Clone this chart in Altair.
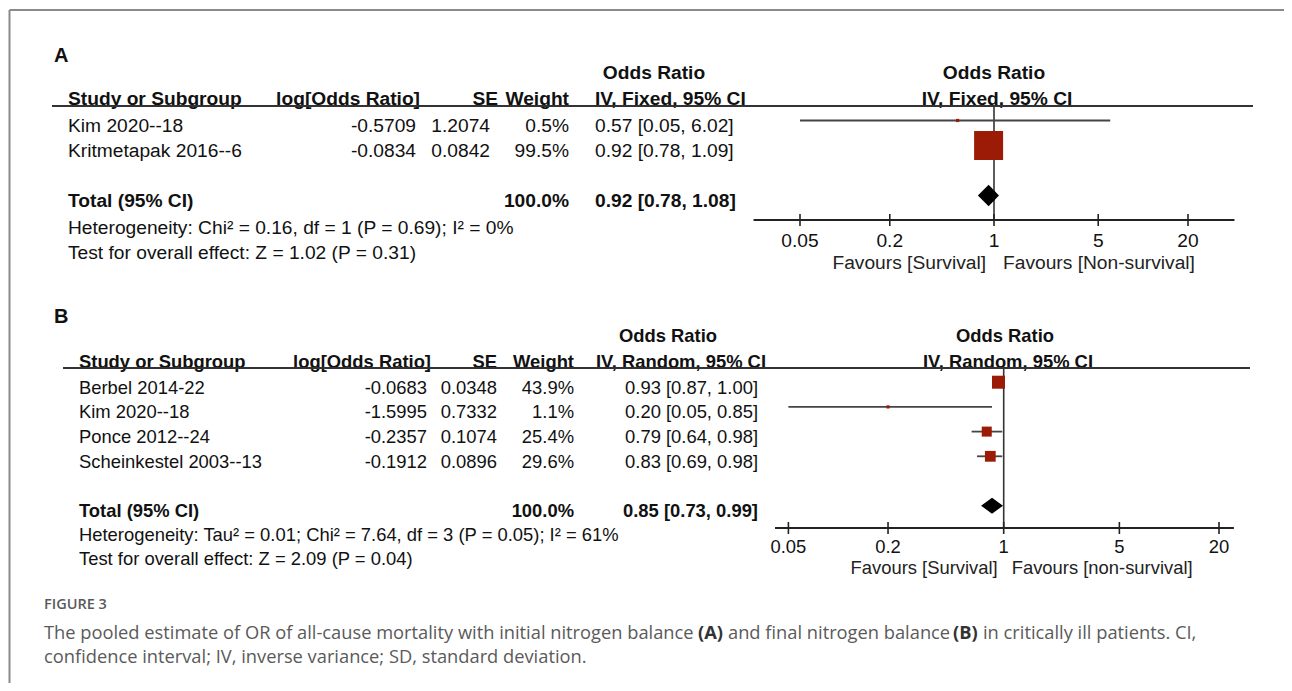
import altair as alt
import pandas as pd

# ---------------- data ----------------
a_study = ["Kim 2020--18", "Kritmetapak 2016--6"]
a_logor = ["-0.5709", "-0.0834"]
a_se = ["1.2074", "0.0842"]
a_weight = [0.5, 99.5]
a_or = [0.57, 0.92]
a_lo = [0.05, 0.78]
a_hi = [6.02, 1.09]
a_total = [0.92, 0.78, 1.08]
a_het = "Heterogeneity: Chi\u00b2 = 0.16, df = 1 (P = 0.69); I\u00b2 = 0%"
a_test = "Test for overall effect: Z = 1.02 (P = 0.31)"

b_study = ["Berbel 2014-22", "Kim 2020--18", "Ponce 2012--24", "Scheinkestel 2003--13"]
b_logor = ["-0.0683", "-1.5995", "-0.2357", "-0.1912"]
b_se = ["0.0348", "0.7332", "0.1074", "0.0896"]
b_weight = [43.9, 1.1, 25.4, 29.6]
b_or = [0.93, 0.20, 0.79, 0.83]
b_lo = [0.87, 0.05, 0.64, 0.69]
b_hi = [1.00, 0.85, 0.98, 0.98]
b_total = [0.85, 0.73, 0.99]
b_het = "Heterogeneity: Tau\u00b2 = 0.01; Chi\u00b2 = 7.64, df = 3 (P = 0.05); I\u00b2 = 61%"
b_test = "Test for overall effect: Z = 2.09 (P = 0.04)"

tick_values = [0.05, 0.2, 1, 5, 20]
tick_labels = ["0.05", "0.2", "1", "5", "20"]

caption_head = "FIGURE 3"
caption_l1 = ["The pooled estimate of OR of all-cause mortality with initial nitrogen balance",
              "(A)", "and final nitrogen balance", "(B)", "in critically ill patients. CI,"]
caption_l2 = "confidence interval; IV, inverse variance; SD, standard deviation."

# ---------------- style / layout ----------------
FONT = "Liberation Sans"
CAP_FONT = "Open Sans"
TXT = "#111111"
SQ = "#9b1b06"
LN = "#333333"
OFF = 8  # page margin


def P(v):
    return v - OFF


layers = []

# figure frame
layers.append(alt.Chart(pd.DataFrame({"k": [0]})).mark_rule(color="#8a8a8a", strokeWidth=2).encode(
    x=alt.value(P(9.5)), x2=alt.value(P(1292)), y=alt.value(P(10))))
layers.append(alt.Chart(pd.DataFrame({"k": [0]})).mark_rule(color="#8a8a8a", strokeWidth=2).encode(
    x=alt.value(P(9.5)), y=alt.value(P(10)), y2=alt.value(P(700))))


def ptext(t, x, y, align="left", bold=False, size=18.5, font=FONT, color=TXT):
    return alt.Chart(pd.DataFrame({"t": [t]})).mark_text(
        align=align, baseline="middle", font=font, fontSize=size,
        fontWeight="bold" if bold else "normal", color=color).encode(
        x=alt.value(P(x)), y=alt.value(P(y)), text="t:N")


def build(cfg, study, logor, se, weight, orv, lo, hi, total, het, test, method):
    n = len(study)
    xs = alt.Scale(type="log", domain=[0.05, 20], range=[P(cfg["x005"]), P(cfg["x20"])])
    ys = alt.Scale(domain=[0, 10], range=[P(cfg["row0"]), P(cfg["row0"] + 10 * cfg["sp"])])
    fs = cfg["fs"]
    df = pd.DataFrame({
        "r": list(range(1, n + 1)),
        "study": study, "logor": logor, "se": se,
        "w": weight, "wt": [f"{w:.1f}%" for w in weight],
        "or": orv, "lo": lo, "hi": hi,
        "ci": [f"{o:.2f} [{l:.2f}, {h:.2f}]" for o, l, h in zip(orv, lo, hi)],
    })
    out = []
    # panel letter
    out.append(ptext(cfg["letter"], 54, cfg["letter_y"], bold=True, size=20))
    # headers
    out.append(ptext("Odds Ratio", cfg["or_hdr_x"], cfg["odds_y"], "center", True, fs))
    out.append(ptext("Odds Ratio", cfg["or_hdr2_x"], cfg["odds_y"], "center", True, fs))
    hy = cfg["hdr_y"]
    out.append(ptext("Study or Subgroup", cfg["study_x"], hy, "left", True, fs))
    out.append(ptext("log[Odds Ratio]", cfg["logor_hdr_r"], hy, "right", True, fs))
    out.append(ptext("SE", cfg["se_hdr_r"], hy, "right", True, fs))
    out.append(ptext("Weight", cfg["w_r"], hy, "right", True, fs))
    out.append(ptext(f"IV, {method}, 95% CI", cfg["iv_hdr_x"], hy, "left", True, fs))
    out.append(ptext(f"IV, {method}, 95% CI", cfg["iv_hdr2_x"], hy, "center", True, fs))
    # header line
    out.append(alt.Chart(pd.DataFrame({"k": [0]})).mark_rule(color=LN, strokeWidth=2).encode(
        x=alt.value(P(cfg["hl_x0"])), x2=alt.value(P(cfg["hl_x1"])), y=alt.value(P(cfg["hl_y"]))))

    # study rows
    def col(field, x, align):
        return alt.Chart(df).mark_text(align=align, baseline="middle", font=FONT, fontSize=fs,
                                       color=TXT, dy=cfg["dy"]).encode(
            x=alt.value(P(x)), y=alt.Y("r:Q", scale=ys, axis=None), text=f"{field}:N")
    out.append(col("study", cfg["study_x"], "left"))
    out.append(col("logor", cfg["logor_r"], "right"))
    out.append(col("se", cfg["se_r"], "right"))
    out.append(col("wt", cfg["w_r"], "right"))
    out.append(col("ci", cfg["ci_x"], cfg["ci_align"]))

    # total row
    trow = n + 2
    tdf = pd.DataFrame({"r": [trow], "a": ["Total (95% CI)"], "b": ["100.0%"],
                        "c": [f"{total[0]:.2f} [{total[1]:.2f}, {total[2]:.2f}]"]})
    for fld, x, al in [("a", cfg["study_x"], "left"), ("b", cfg["w_r"], "right"),
                       ("c", cfg["ci_x"], cfg["ci_align"])]:
        out.append(alt.Chart(tdf).mark_text(align=al, baseline="middle", font=FONT, fontSize=fs,
                                            fontWeight="bold", color=TXT, dy=cfg["dy"]).encode(
            x=alt.value(P(x)), y=alt.Y("r:Q", scale=ys, axis=None), text=f"{fld}:N"))
    out.append(ptext(het, cfg["study_x"], cfg["het_y"], size=fs))
    out.append(ptext(test, cfg["study_x"], cfg["test_y"], size=fs))

    # forest: vertical line of no effect
    out.append(alt.Chart(pd.DataFrame({"x": [1]})).mark_rule(color=LN, strokeWidth=1.6).encode(
        x=alt.X("x:Q", scale=xs, axis=None), y=alt.value(P(cfg["hl_y"])), y2=alt.value(P(cfg["axis_y"]))))
    # CI lines
    out.append(alt.Chart(df).mark_rule(color="#454545", strokeWidth=1.8).encode(
        x=alt.X("lo:Q", scale=xs, axis=None), x2="hi:Q", y=alt.Y("r:Q", scale=ys, axis=None)))
    # squares
    out.append(alt.Chart(df).mark_square(color=SQ, opacity=1, strokeWidth=0).encode(
        x=alt.X("or:Q", scale=xs, axis=None), y=alt.Y("r:Q", scale=ys, axis=None),
        size=alt.Size("w:Q", scale=alt.Scale(domain=[0, max(weight)], range=[6, cfg["max_area"]]),
                      legend=None)))
    # diamond
    h = cfg["dia_h"] / cfg["sp"]
    ddf = pd.DataFrame({"x": [total[1], total[0], total[2]],
                        "y": [trow, trow - h, trow], "y2": [trow, trow + h, trow]})
    out.append(alt.Chart(ddf).mark_area(color="black", orient="vertical", opacity=1).encode(
        x=alt.X("x:Q", scale=xs, axis=None), y=alt.Y("y:Q", scale=ys, axis=None), y2="y2:Q"))
    # axis line
    adf = pd.DataFrame({"a": [cfg["ax_ext"][0]], "b": [cfg["ax_ext"][1]]})
    out.append(alt.Chart(adf).mark_rule(color="#222222", strokeWidth=2).encode(
        x=alt.X("a:Q", scale=xs, axis=None), x2="b:Q", y=alt.value(P(cfg["axis_y"]))))
    tdf2 = pd.DataFrame({"t": tick_values, "lab": tick_labels})
    out.append(alt.Chart(tdf2).mark_rule(color="#222222", strokeWidth=1.6).encode(
        x=alt.X("t:Q", scale=xs, axis=None), y=alt.value(P(cfg["axis_y"] - 6)),
        y2=alt.value(P(cfg["axis_y"] + 6))))
    out.append(alt.Chart(tdf2).mark_text(align="center", baseline="middle", font=FONT, fontSize=fs,
                                         color=TXT).encode(
        x=alt.X("t:Q", scale=xs, axis=None), y=alt.value(P(cfg["tick_y"])), text="lab:N"))
    fdf = pd.DataFrame({"x": [1], "l": ["Favours [Survival]"], "r": [cfg["fav_right"]]})
    out.append(alt.Chart(fdf).mark_text(align="right", baseline="middle", font=FONT, fontSize=fs,
                                        color="#222222", dx=cfg["fav_dx"][0]).encode(
        x=alt.X("x:Q", scale=xs, axis=None), y=alt.value(P(cfg["fav_y"])), text="l:N"))
    out.append(alt.Chart(fdf).mark_text(align="left", baseline="middle", font=FONT, fontSize=fs,
                                        color="#222222", dx=cfg["fav_dx"][1]).encode(
        x=alt.X("x:Q", scale=xs, axis=None), y=alt.value(P(cfg["fav_y"])), text="r:N"))
    return out


cfgA = dict(letter="A", letter_y=56, fs=19.2, x005=800, x20=1188, row0=95.5, sp=25, dy=5.5,
            odds_y=73, hdr_y=98.5, het_y=227.5, test_y=252.5,
            study_x=68, logor_r=416, logor_hdr_r=420, se_r=490, se_hdr_r=498, w_r=569,
            ci_x=595, ci_align="left", iv_hdr_x=595, or_hdr_x=654, or_hdr2_x=994, iv_hdr2_x=997,
            hl_x0=52, hl_x1=1253, hl_y=106, axis_y=220, tick_y=241, fav_y=263,
            ax_ext=(0.0244, 41.0), max_area=841, dia_h=10.8, fav_dx=(-8, 9),
            fav_right="Favours [Non-survival]")
cfgB = dict(letter="B", letter_y=317, fs=18.4, x005=788.4, x20=1219, row0=357.5, sp=24.7, dy=5.5,
            odds_y=336, hdr_y=361.5, het_y=535, test_y=559,
            study_x=79, logor_r=427, logor_hdr_r=431, se_r=497, se_hdr_r=497, w_r=574,
            ci_x=758, ci_align="right", iv_hdr_x=596, or_hdr_x=668, or_hdr2_x=1005, iv_hdr2_x=1008,
            hl_x0=63, hl_x1=1250, hl_y=368, axis_y=528, tick_y=547, fav_y=568,
            ax_ext=(0.0415, 24.6), max_area=169, dia_h=8.0, fav_dx=(-6, 8),
            fav_right="Favours [non-survival]")

layers += build(cfgA, a_study, a_logor, a_se, a_weight, a_or, a_lo, a_hi, a_total, a_het, a_test, "Fixed")
layers += build(cfgB, b_study, b_logor, b_se, b_weight, b_or, b_lo, b_hi, b_total, b_het, b_test, "Random")

# caption
CAPC = "#5a5a5a"
CAP_FS = 18.3
layers.append(alt.Chart(pd.DataFrame({"t": [caption_head]})).mark_text(
    align="left", baseline="middle", font=CAP_FONT, fontSize=14.5, fontWeight=600, color=CAPC).encode(
    x=alt.value(P(44)), y=alt.value(P(605)), text="t:N"))
cap_x = [44, 698, 728, 953, 983]
for seg, x in zip(caption_l1, cap_x):
    bold = seg in ("(A)", "(B)")
    layers.append(alt.Chart(pd.DataFrame({"t": [seg]})).mark_text(
        align="left", baseline="middle", font=CAP_FONT, fontSize=CAP_FS,
        fontWeight="bold" if bold else "normal", color="#333333" if bold else CAPC).encode(
        x=alt.value(P(x)), y=alt.value(P(634)), text="t:N"))
layers.append(alt.Chart(pd.DataFrame({"t": [caption_l2]})).mark_text(
    align="left", baseline="middle", font=CAP_FONT, fontSize=CAP_FS, color=CAPC).encode(
    x=alt.value(P(44)), y=alt.value(P(658)), text="t:N"))

chart = alt.layer(*layers).resolve_scale(x="independent", y="independent", size="independent").properties(
    width=1276, height=675, padding=0, autosize=alt.AutoSizeParams(type="none")
).configure_view(stroke=None)

chart.save("out.html", embed_options={"renderer": "svg", "actions": False})
